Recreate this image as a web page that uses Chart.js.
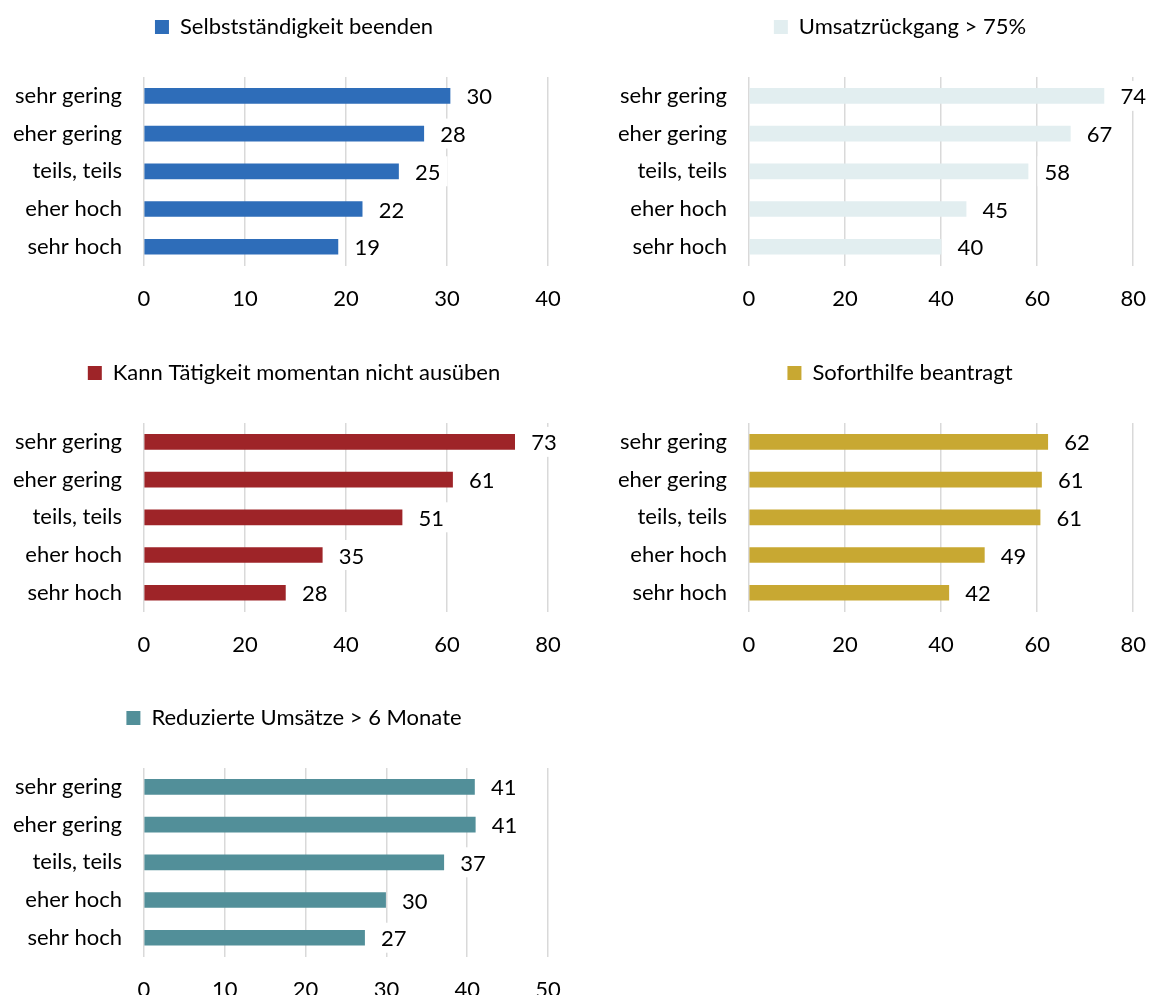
<!DOCTYPE html>
<html>
<head>
<meta charset="utf-8">
<script src="https://cdn.jsdelivr.net/npm/chart.js@4.4.1/dist/chart.umd.min.js"></script>
<style>
html, body { margin: 0; padding: 0; background: #fff; overflow: hidden; width: 1166px; height: 995px; }
.panel { position: absolute; width: 583px; height: 342px; }
canvas { display: block; }
</style>
</head>
<body>
<div class="panel" style="left:0px;top:0px"><canvas id="c1" width="583" height="342"></canvas></div>
<div class="panel" style="left:583px;top:0px"><canvas id="c2" width="583" height="342"></canvas></div>
<div class="panel" style="left:0px;top:346px"><canvas id="c3" width="583" height="342"></canvas></div>
<div class="panel" style="left:583px;top:346px"><canvas id="c4" width="583" height="342"></canvas></div>
<div class="panel" style="left:0px;top:691px"><canvas id="c5" width="583" height="342"></canvas></div>
<script>
// ---- data ----
const categories = ['sehr gering', 'eher gering', 'teils, teils', 'eher hoch', 'sehr hoch'];

const seriesNames = [
  'Selbstständigkeit beenden',
  'Umsatzrückgang > 75%',
  'Kann Tätigkeit momentan nicht ausüben',
  'Soforthilfe beantragt',
  'Reduzierte Umsätze > 6 Monate'
];

const selbststaendigkeitBeenden = [30.3, 27.7, 25.2, 21.6, 19.2];
const umsatzrueckgang75 = [73.9, 66.9, 58.1, 45.2, 40.0];
const kannTaetigkeitNicht = [73.4, 61.1, 51.1, 35.3, 28.0];
const soforthilfeBeantragt = [62.2, 60.9, 60.6, 49.0, 41.6];
const reduzierteUmsaetze6M = [40.9, 41.0, 37.1, 29.9, 27.3];

const ticks1 = [0, 10, 20, 30, 40];
const ticks2 = [0, 20, 40, 60, 80];
const ticks3 = [0, 20, 40, 60, 80];
const ticks4 = [0, 20, 40, 60, 80];
const ticks5 = [0, 10, 20, 30, 40, 50];

// ---- styling ----
const FONT_FAMILY = 'Lato, "Open Sans", sans-serif';
const FONT_SIZE = 22;
const TEXT_COLOR = '#000000';
const GRID_COLOR = '#d9d9d9';

Chart.defaults.font.family = FONT_FAMILY;
Chart.defaults.font.size = FONT_SIZE;
Chart.defaults.color = TEXT_COLOR;

const dataLabelPlugin = {
  id: 'valueLabels',
  afterDatasetsDraw(chart) {
    const ctx = chart.ctx;
    const meta = chart.getDatasetMeta(0);
    const values = chart.data.datasets[0].data;
    ctx.save();
    ctx.font = FONT_SIZE + 'px ' + FONT_FAMILY;
    ctx.textAlign = 'left';
    ctx.textBaseline = 'middle';
    meta.data.forEach((bar, i) => {
      const txt = String(Math.round(values[i]));
      const w = ctx.measureText(txt).width;
      const tx = bar.x + 16.5;
      ctx.fillStyle = '#ffffff';
      ctx.fillRect(tx - 7, bar.y - 15, w + 14, 30);
      ctx.fillStyle = TEXT_COLOR;
      ctx.fillText(txt, tx, bar.y + 1.5);
    });
    ctx.restore();
  }
};

function legendPlugin(h, center) {
  return {
    id: 'legendPlacement',
    beforeLayout(chart) {
      const lg = chart.legend;
      if (lg && !lg._hPatched) {
        const orig = lg.fit;
        lg.fit = function () {
          orig.call(this);
          this.height = h;
        };
        lg._hPatched = true;
      }
    },
    afterLayout(chart) {
      const lg = chart.legend;
      if (lg) {
        lg.left = 0;
        lg.right = 2 * center;
      }
    }
  };
}

function makeChart(id, name, values, color, tickValues, side) {
  const padRight = side === 'left' ? 35 : 14;
  const yWidth = side === 'left' ? 144 : 166;
  const legendCenter = side === 'left' ? 294 : 317;
  const padTop = 6;
  const tmax = tickValues[tickValues.length - 1];
  const step = tickValues[1] - tickValues[0];
  return new Chart(document.getElementById(id), {
    type: 'bar',
    data: {
      labels: categories,
      datasets: [{
        label: name,
        data: values,
        backgroundColor: color,
        borderWidth: 0,
        barThickness: 15
      }]
    },
    options: {
      indexAxis: 'y',
      responsive: false,
      animation: false,
      devicePixelRatio: 1,
      layout: { padding: { left: 0, right: padRight, top: padTop, bottom: 10 } },
      plugins: {
        legend: {
          display: true,
          position: 'top',
          align: 'center',
          labels: {
            boxWidth: 14,
            boxHeight: 14,
            padding: 10,
            color: TEXT_COLOR,
            font: { size: FONT_SIZE, family: FONT_FAMILY }
          }
        },
        tooltip: { enabled: false },
        title: { display: false }
      },
      scales: {
        x: {
          type: 'linear',
          position: 'bottom',
          min: 0,
          max: tmax,
          afterBuildTicks(scale) { scale.ticks = tickValues.map(v => ({ value: v })); },
          ticks: { stepSize: step, padding: 20, color: TEXT_COLOR, font: { size: FONT_SIZE } },
          grid: { color: GRID_COLOR, lineWidth: 1.5, drawTicks: false },
          border: { display: false }
        },
        y: {
          type: 'category',
          grid: { display: false, drawTicks: false },
          border: { display: false },
          ticks: { padding: 22, color: TEXT_COLOR, font: { size: FONT_SIZE } },
          afterFit(scale) { scale.width = yWidth; }
        }
      }
    },
    plugins: [dataLabelPlugin, legendPlugin(77 - padTop, legendCenter)]
  });
}

makeChart('c1', seriesNames[0], selbststaendigkeitBeenden, '#2E6DB9', ticks1, 'left');
makeChart('c2', seriesNames[1], umsatzrueckgang75, '#E2EEF0', ticks2, 'right');
makeChart('c3', seriesNames[2], kannTaetigkeitNicht, '#9E2428', ticks3, 'left');
makeChart('c4', seriesNames[3], soforthilfeBeantragt, '#C8A832', ticks4, 'right');
makeChart('c5', seriesNames[4], reduzierteUmsaetze6M, '#528F99', ticks5, 'left');
</script>
</body>
</html>
